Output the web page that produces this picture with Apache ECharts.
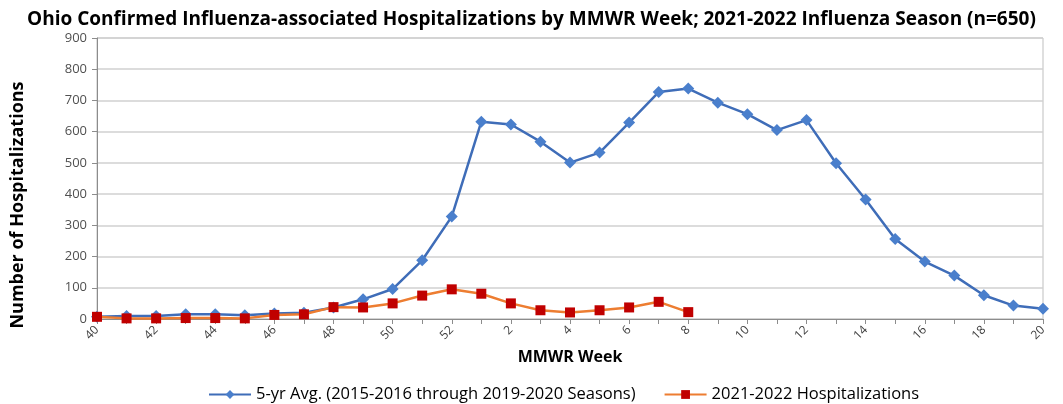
<!DOCTYPE html>
<html><head><meta charset="utf-8">
<script src="https://cdn.jsdelivr.net/npm/echarts@6/dist/echarts.min.js"></script>
<style>html,body{margin:0;padding:0;background:#fff}#c{width:1063px;height:404px}</style>
</head><body><div id="c"></div>
<script>
const weeks = ['40','41','42','43','44','45','46','47','48','49','50','51','52','1','2','3','4','5','6','7','8','9','10','11','12','13','14','15','16','17','18','19','20'];
const avg5yr = [7,10,10,15,15,12,18,20,37,63,96,188,328,632,623,568,501,533,629,727,738,693,656,605,637,499,383,256,184,139,76,43,33];
const season2122 = [7,2,2,3,3,2,13,15,38,37,50,75,95,81,50,28,21,28,37,55,22];
const yTicks = {min:0, max:900, interval:100};

const chart = echarts.init(document.getElementById('c'));
const F = "'Open Sans',sans-serif";
chart.setOption({
  animation:false,
  title:{text:'Ohio Confirmed Influenza-associated Hospitalizations by MMWR Week; 2021-2022 Influenza Season (n=650)',
    left:'center', top:5, textStyle:{fontFamily:F, fontSize:19, fontWeight:'bold', color:'#000'}},
  grid:{left:97, right:20, top:38, bottom:85, show:true, borderColor:'#bfbfbf', borderWidth:1},
  legend:{top:381, left:203, itemWidth:42, itemHeight:11, itemGap:28,
    textStyle:{fontFamily:F, fontSize:16.5, color:'#000'},
    data:['5-yr Avg. (2015-2016 through 2019-2020 Seasons)','2021-2022 Hospitalizations']},
  graphic:[{type:'text', x:18, y:205, rotation:Math.PI/2,
    style:{text:'Number of Hospitalizations', fontFamily:F, fontSize:18, fontWeight:'bold', fill:'#000', align:'center', verticalAlign:'middle'}}],
  xAxis:{type:'category', data:weeks, boundaryGap:false,
    name:'MMWR Week', nameLocation:'middle', nameGap:13,
    nameTextStyle:{fontFamily:F, fontSize:16, fontWeight:'bold', color:'#000'},
    axisLine:{lineStyle:{color:'#8c8c8c', width:1}},
    axisTick:{show:true, interval:0, length:5, lineStyle:{color:'#8c8c8c'}},
    axisLabel:{interval:1, rotate:45, fontFamily:F, fontSize:12, color:'#404040', margin:9},
    splitLine:{show:false}},
  yAxis:{type:'value', min:yTicks.min, max:yTicks.max, interval:yTicks.interval,
    axisLine:{show:true, lineStyle:{color:'#8c8c8c'}},
    axisTick:{show:true, length:5, lineStyle:{color:'#8c8c8c'}},
    axisLabel:{fontFamily:F, fontSize:13, color:'#505050', margin:10},
    splitLine:{lineStyle:{color:'#d0d0d0', width:1.5}}},
  series:[
    {name:'5-yr Avg. (2015-2016 through 2019-2020 Seasons)', type:'line', data:avg5yr,
      symbol:'diamond', symbolSize:12, lineStyle:{color:'#3f6db8', width:2.5},
      itemStyle:{color:'#4a7fcc'}, z:2},
    {name:'2021-2022 Hospitalizations', type:'line', data:season2122,
      symbol:'rect', symbolSize:10, lineStyle:{color:'#ed7d31', width:2.5},
      itemStyle:{color:'#c00000'}, z:3}
  ]
});
</script></body></html>
